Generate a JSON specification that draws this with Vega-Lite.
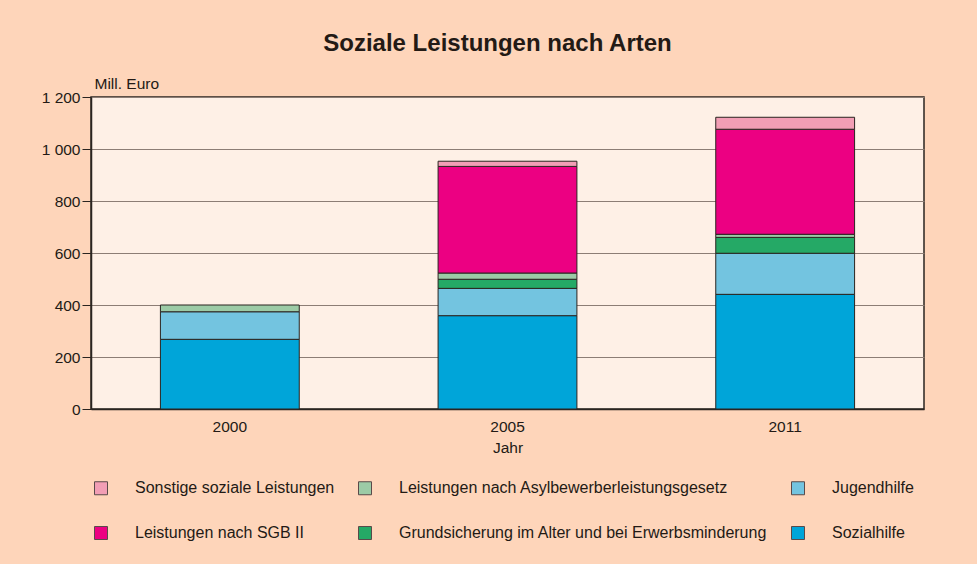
{
  "$schema": "https://vega.github.io/schema/vega-lite/v6.json",
  "autosize": "none",
  "width": 833,
  "height": 312,
  "padding": {"left": 91, "top": 97, "right": 53, "bottom": 155},
  "background": "#FED5BA",
  "title": {
    "text": "Soziale Leistungen nach Arten",
    "font": "Liberation Sans",
    "fontSize": 24,
    "fontWeight": "bold",
    "color": "#231a15",
    "anchor": "middle",
    "dx": -10,
    "offset": 20
  },
  "data": {
    "values": [
      {"Jahr": "2000", "Art": "Sozialhilfe", "Wert": 268},
      {"Jahr": "2000", "Art": "Jugendhilfe", "Wert": 106},
      {"Jahr": "2000", "Art": "Leistungen nach Asylbewerberleistungsgesetz", "Wert": 26},
      {"Jahr": "2005", "Art": "Sozialhilfe", "Wert": 359},
      {"Jahr": "2005", "Art": "Jugendhilfe", "Wert": 105},
      {"Jahr": "2005", "Art": "Grundsicherung im Alter und bei Erwerbsminderung", "Wert": 35},
      {"Jahr": "2005", "Art": "Leistungen nach Asylbewerberleistungsgesetz", "Wert": 24},
      {"Jahr": "2005", "Art": "Leistungen nach SGB II", "Wert": 410},
      {"Jahr": "2005", "Art": "Sonstige soziale Leistungen", "Wert": 20},
      {"Jahr": "2011", "Art": "Sozialhilfe", "Wert": 441},
      {"Jahr": "2011", "Art": "Jugendhilfe", "Wert": 158},
      {"Jahr": "2011", "Art": "Grundsicherung im Alter und bei Erwerbsminderung", "Wert": 61},
      {"Jahr": "2011", "Art": "Leistungen nach Asylbewerberleistungsgesetz", "Wert": 12},
      {"Jahr": "2011", "Art": "Leistungen nach SGB II", "Wert": 404},
      {"Jahr": "2011", "Art": "Sonstige soziale Leistungen", "Wert": 46}
    ]
  },
  "transform": [
    {"calculate": "indexof(['Sozialhilfe','Jugendhilfe','Grundsicherung im Alter und bei Erwerbsminderung','Leistungen nach Asylbewerberleistungsgesetz','Leistungen nach SGB II','Sonstige soziale Leistungen'], datum.Art)", "as": "Stapel"}
  ],
  "mark": {"type": "bar", "stroke": "#2a2420", "strokeWidth": 1},
  "encoding": {
    "x": {
      "field": "Jahr",
      "type": "ordinal",
      "scale": {"paddingInner": 0.5, "paddingOuter": 0.25},
      "axis": {
        "title": "Jahr",
        "labelAngle": 0,
        "ticks": false,
        "labelPadding": 10,
        "titlePadding": 6,
        "domainColor": "#2a2420",
        "domainWidth": 1.5
      }
    },
    "y": {
      "field": "Wert",
      "type": "quantitative",
      "stack": "zero",
      "scale": {"domain": [0, 1200], "nice": false},
      "axis": {
        "values": [0, 200, 400, 600, 800, 1000, 1200],
        "labelExpr": "replace(format(datum.value, ','), ',', ' ')",
        "title": "Mill. Euro",
        "titleAngle": 0,
        "titleAlign": "left",
        "titleBaseline": "alphabetic",
        "titleFontWeight": "normal",
        "titleX": 3,
        "titleY": -9,
        "tickSize": 9,
        "tickColor": "#2a2420",
        "labelPadding": 2,
        "domainColor": "#2a2420",
        "domainWidth": 1.5,
        "grid": true,
        "gridColor": "#8c7d75",
        "gridWidth": 1.2
      }
    },
    "color": {
      "field": "Art",
      "type": "nominal",
      "scale": {
        "domain": [
          "Sonstige soziale Leistungen",
          "Leistungen nach Asylbewerberleistungsgesetz",
          "Jugendhilfe",
          "Leistungen nach SGB II",
          "Grundsicherung im Alter und bei Erwerbsminderung",
          "Sozialhilfe"
        ],
        "range": ["#F29EB5", "#9CCBA6", "#73C4E0", "#EC0082", "#25A966", "#00A5D9"]
      },
      "legend": {
        "title": null,
        "orient": "none",
        "legendX": 2,
        "legendY": 383,
        "direction": "horizontal",
        "columns": 3,
        "symbolType": "square",
        "symbolSize": 169,
        "symbolStrokeColor": "#5a4a4a",
        "symbolStrokeWidth": 1,
        "labelOffset": 26,
        "columnPadding": 21,
        "rowPadding": 27,
        "padding": 0,
        "labelFontSize": 16,
        "labelLimit": 500
      }
    },
    "order": {"field": "Stapel", "type": "quantitative"}
  },
  "config": {
    "font": "Liberation Sans",
    "view": {"fill": "#FEF0E6", "stroke": "#2a2420", "strokeWidth": 1.5},
    "axis": {
      "labelFont": "Liberation Sans",
      "titleFont": "Liberation Sans",
      "labelFontSize": 15.5,
      "titleFontSize": 15.5,
      "labelColor": "#231a15",
      "titleColor": "#231a15",
      "titleFontWeight": "normal"
    },
    "legend": {
      "labelFont": "Liberation Sans",
      "labelColor": "#231a15"
    }
  }
}
